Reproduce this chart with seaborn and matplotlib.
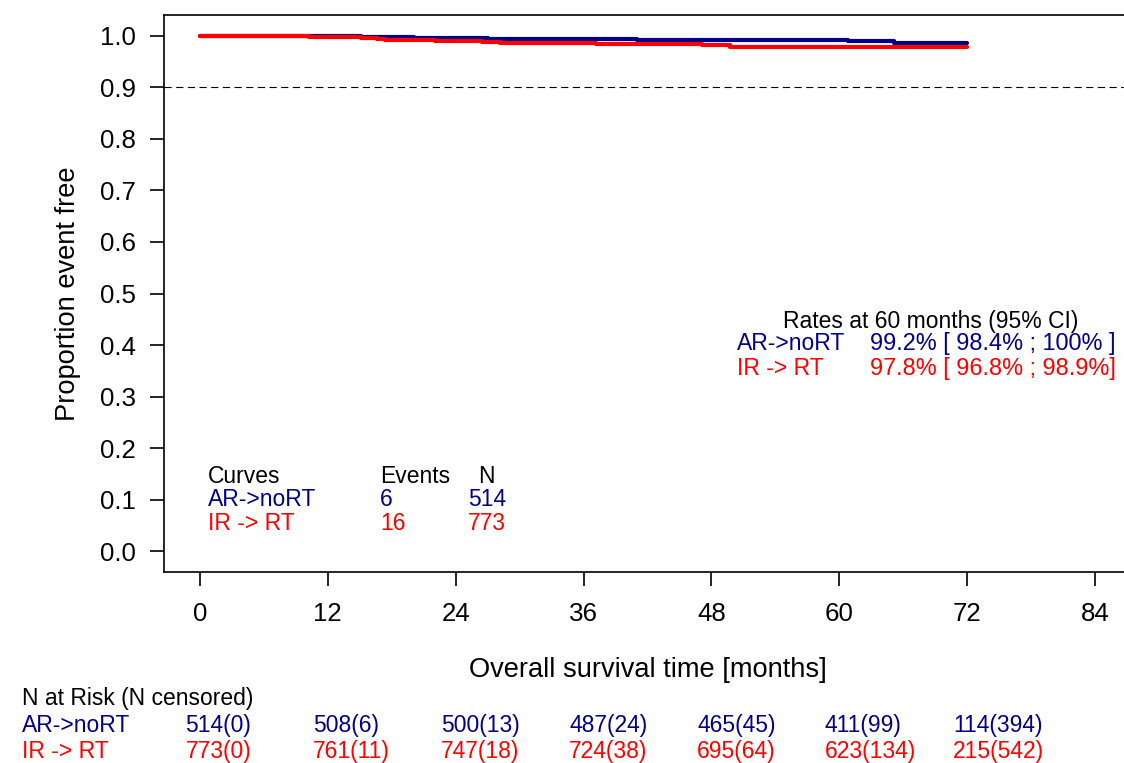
import numpy as np
import pandas as pd
import matplotlib
matplotlib.use("Agg")
import matplotlib.pyplot as plt
import matplotlib.transforms as mtransforms
import seaborn as sns

# ---------------- data ----------------
groups = ["AR->noRT", "IR -> RT"]
colors = ["#00008B", "#FF0000"]

ar_time = [0, 15.1, 20.1, 27.0, 41.0, 60.8, 65.1, 72.0]
ar_surv = [1.0, 0.9980, 0.9961, 0.9941, 0.9921, 0.9895, 0.9860, 0.9860]

ir_time = [0, 10.2, 15.1, 16.6, 17.4, 22.1, 26.5, 28.2, 31.7, 37.2, 38.4, 47.1, 49.7, 72.0]
ir_surv = [1.0, 0.9987, 0.9965, 0.9940, 0.9920, 0.9898, 0.9885, 0.9872, 0.9862,
           0.9848, 0.9835, 0.9815, 0.9787, 0.9787]

events = [6, 16]
n_total = [514, 773]
rate_60 = ["99.2%", "97.8%"]
ci_low = ["98.4%", "96.8%"]
ci_high = ["100% ", "98.9%"]

risk_times = [0, 12, 24, 36, 48, 60, 72]
ar_risk = [514, 508, 500, 487, 465, 411, 114]
ar_cens = [0, 6, 13, 24, 45, 99, 394]
ir_risk = [773, 761, 747, 724, 695, 623, 215]
ir_cens = [0, 11, 18, 38, 64, 134, 542]

x_ticks = [0, 12, 24, 36, 48, 60, 72, 84]
y_ticks = [0.0, 0.1, 0.2, 0.3, 0.4, 0.5, 0.6, 0.7, 0.8, 0.9, 1.0]
ref_line = 0.9

# ---------------- style ----------------
sns.set_theme(style="ticks")
plt.rcParams["font.family"] = ["Liberation Sans", "DejaVu Sans"]

W, H = 1124, 763
fig = plt.figure(figsize=(W / 100, H / 100), dpi=100)
ax_left, ax_right, ax_top, ax_bottom = 164, 1131, 15.3, 571.7
ax = fig.add_axes([ax_left / W, 1 - ax_bottom / H,
                   (ax_right - ax_left) / W, (ax_bottom - ax_top) / H])


def fx(px):
    return px / W


def fy(py):
    return 1 - py / H


df = pd.concat([
    pd.DataFrame({"time": ar_time, "surv": ar_surv, "group": groups[0]}),
    pd.DataFrame({"time": ir_time, "surv": ir_surv, "group": groups[1]}),
], ignore_index=True)

sns.lineplot(data=df, x="time", y="surv", hue="group", hue_order=groups,
             palette=colors, drawstyle="steps-post", estimator=None, sort=False,
             lw=3.0, solid_capstyle="round", legend=False, ax=ax)

ax.axhline(ref_line, color="black", lw=0.8, ls=(0, (6.5, 4)), zorder=1)

ax.set_xlim(-3.36, 87.36)
ax.set_ylim(-0.04, 1.04)
ax.set_xticks(x_ticks)
ax.set_xticklabels([str(t) for t in x_ticks])
ax.set_yticks(y_ticks)
ax.set_yticklabels([f"{v:.1f}" for v in y_ticks])
ax.tick_params(axis="both", direction="out", length=10, width=1.2,
               color="black", labelsize=18.6, labelcolor="black")
ax.tick_params(axis="x", pad=12)
ax.tick_params(axis="y", pad=10)
for s in ax.spines.values():
    s.set_visible(True)
    s.set_color("black")
    s.set_linewidth(1.2)
ax.grid(False)

ax.set_xlabel("Overall survival time [months]", fontsize=19.6, color="black",
              va="baseline")
ax.xaxis.set_label_coords(0.5, (ax_bottom - 676.7) / (ax_bottom - ax_top))
ax.set_ylabel("Proportion event free", fontsize=19.6, color="black", va="center")
ax.yaxis.set_label_coords((68 - ax_left) / (ax_right - ax_left), 0.5)

fs = 16.5

# ---- rates block ----
fig.text(fx(783.3), fy(328.3), "Rates at 60 months (95% CI)", fontsize=fs,
         color="black", va="baseline", ha="left")
for i, base in enumerate([350.0, 375.0]):
    c = colors[i]
    fig.text(fx(737.3), fy(base), groups[i], fontsize=fs, color=c, va="baseline")
    fig.text(fx(870), fy(base), f"{rate_60[i]} [ {ci_low[i]} ; {ci_high[i]}]",
             fontsize=16.9, color=c, va="baseline")

# ---- curves / events / N block ----
fig.text(fx(208.3), fy(483.3), "Curves", fontsize=fs, color="black", va="baseline")
fig.text(fx(380), fy(483.3), "Events", fontsize=fs, color="black", va="baseline")
fig.text(fx(486.7), fy(483.3), "N", fontsize=fs, color="black", va="baseline", ha="center")
for i, base in enumerate([505.7, 530.0]):
    c = colors[i]
    fig.text(fx(208.3), fy(base), groups[i], fontsize=fs, color=c, va="baseline")
    fig.text(fx(380), fy(base), str(events[i]), fontsize=fs, color=c, va="baseline")
    fig.text(fx(486.7), fy(base), str(n_total[i]), fontsize=fs, color=c,
             va="baseline", ha="center")

# ---- risk table ----
fig.text(fx(21.7), fy(705), "N at Risk (N censored)", fontsize=fs, color="black",
         va="baseline")
blend = mtransforms.blended_transform_factory(ax.transData, fig.transFigure)
for i, (base, risk, cens) in enumerate([(731.7, ar_risk, ar_cens),
                                        (758.3, ir_risk, ir_cens)]):
    c = colors[i]
    fig.text(fx(21.7), fy(base), groups[i], fontsize=fs, color=c, va="baseline")
    for t, r, cc in zip(risk_times, risk, cens):
        fig.text(t - 1.35, fy(base), f"{r}({cc})", fontsize=fs, color=c,
                 va="baseline", ha="left", transform=blend)

fig.savefig("out.png", dpi=100)
